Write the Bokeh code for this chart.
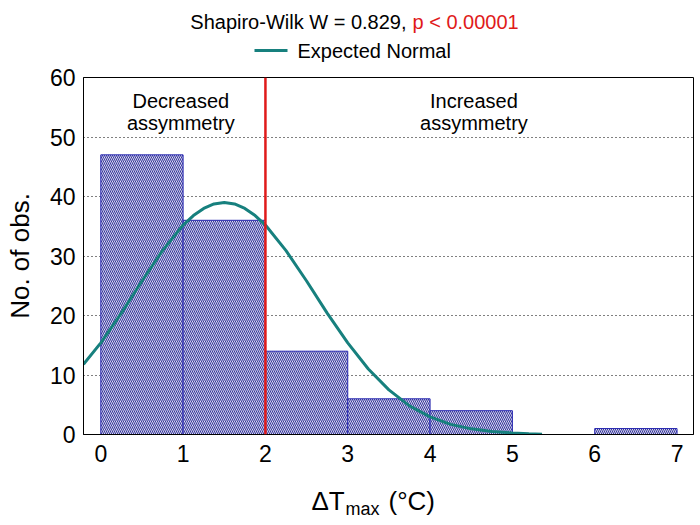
from bokeh.plotting import figure
from bokeh.layouts import column
from bokeh.models import Range1d, Span, Label, FixedTicker
from bokeh.core.properties import value
from bokeh.embed import file_html
from bokeh.resources import INLINE

# ---- data ----
bin_left = [0, 1, 2, 3, 4, 5, 6]
bin_right = [1, 2, 3, 4, 5, 6, 7]
counts = [47, 36, 14, 6, 4, 0, 1]

curve_x = [-0.21, 0.0, 0.25, 0.5, 0.75, 1.0, 1.125, 1.25, 1.375, 1.5, 1.625, 1.75, 1.875,
           2.0, 2.25, 2.5, 2.75, 3.0, 3.25, 3.5, 3.75, 4.0, 4.25, 4.5, 4.75, 5.0, 5.2, 5.36]
curve_y = [11.8, 15.4, 20.4, 25.8, 30.9, 35.2, 36.8, 38.0, 38.75, 39.0, 38.75, 38.0, 36.8,
           35.2, 30.9, 25.8, 20.4, 15.4, 11.0, 7.5, 4.8, 2.95, 1.7, 0.95, 0.5, 0.25, 0.12, 0.05]

x_ticks = [0, 1, 2, 3, 4, 5, 6, 7]
y_ticks = [0, 10, 20, 30, 40, 50, 60]
threshold = 2

title_main = "Shapiro-Wilk W = 0.829,"
title_p = "p < 0.00001"
legend_label = "Expected Normal"
region_left = ["Decreased", "assymmetry"]
region_right = ["Increased", "assymmetry"]

FONT = "Liberation Sans"
TEAL = "#17807e"
RED = "#e01a1a"
BLUE = "#2626b0"

W = 700
TOP_H = 62
BOT_H = 41
MAIN_H = 525 - TOP_H - BOT_H
FRAME_L = 83
FRAME_R = 693

def strip(h):
    # frames of the column's plots are aligned, so use the main frame's pixel span
    s = figure(width=W, height=h, output_backend="svg", toolbar_location=None, title=None,
               x_range=Range1d(FRAME_L, FRAME_R), y_range=Range1d(0, h),
               min_border=0, min_border_left=FRAME_L, min_border_right=W - FRAME_R,
               min_border_top=0, min_border_bottom=0)
    s.axis.visible = False
    s.grid.visible = False
    s.outline_line_color = None
    s.background_fill_color = "white"
    s.border_fill_color = "white"
    return s

# ---- top strip: title + legend ----
top = strip(TOP_H)
top.text(x=[406], y=[41], text=[title_main], text_align="right", text_baseline="middle",
         text_font=value(FONT), text_font_size=value("20px"), text_color="black")
top.text(x=[412], y=[41], text=[title_p], text_align="left", text_baseline="middle",
         text_font=value(FONT), text_font_size=value("20px"), text_color=RED)
top.line(x=[254, 287], y=[12, 12], line_color=TEAL, line_width=3)
top.text(x=[297], y=[12], text=[legend_label], text_align="left", text_baseline="middle",
         text_font=value(FONT), text_font_size=value("20px"), text_color="black")

# ---- main chart ----
p = figure(width=W, height=MAIN_H, output_backend="svg", toolbar_location=None, title=None,
           x_range=Range1d(-0.21, 7.2), y_range=Range1d(0, 60),
           min_border_left=FRAME_L, min_border_right=W - FRAME_R, min_border_top=15,
           min_border_bottom=50)

p.outline_line_color = "black"
p.outline_line_width = 1
p.background_fill_color = "white"
p.border_fill_color = "white"

p.xgrid.grid_line_color = None
p.ygrid.grid_line_color = "black"
p.ygrid.grid_line_dash = "1 3"
p.ygrid.grid_line_width = 1

p.xaxis.ticker = FixedTicker(ticks=x_ticks)
p.yaxis.ticker = FixedTicker(ticks=y_ticks)
for ax in (p.xaxis, p.yaxis):
    ax.axis_line_color = "black"
    ax.major_tick_out = 0
    ax.major_tick_in = 0
    ax.minor_tick_out = 0
    ax.minor_tick_in = 0
    ax.major_label_text_font = FONT
    ax.major_label_text_font_size = "23px"
    ax.major_label_text_color = "black"
p.xaxis.major_label_standoff = 10
p.yaxis.major_label_standoff = 8

p.yaxis.axis_label = "No. of obs."
p.yaxis.axis_label_text_font = FONT
p.yaxis.axis_label_text_font_size = "26px"
p.yaxis.axis_label_text_font_style = "normal"
p.yaxis.axis_label_text_color = "black"
p.yaxis.axis_label_standoff = 12

# bars (skip empty bins)
bl = [l for l, c in zip(bin_left, counts) if c > 0]
br = [r for r, c in zip(bin_right, counts) if c > 0]
bc = [c for c in counts if c > 0]
p.quad(left=bl, right=br, bottom=0, top=bc, fill_color="white",
       line_color=BLUE, line_width=1,
       hatch_pattern="\\", hatch_color="#33339c", hatch_scale=4, hatch_weight=1.1)

# expected normal curve
p.line(curve_x, curve_y, line_color=TEAL, line_width=3)

# threshold line
p.add_layout(Span(location=threshold, dimension="height", line_color=RED, line_width=2.5))

# region annotations
for (t1, t2), x in [(region_left, 0.972), (region_right, 4.533)]:
    for txt, y in [(t1, 55.97), (t2, 52.27)]:
        p.add_layout(Label(x=x, y=y, text=txt, text_align="center", text_baseline="middle",
                           text_font=FONT, text_font_size="20px", text_color="black"))

# ---- bottom strip: x axis label with subscript ----
bot = strip(BOT_H)
bot.text(x=[311], y=[25], text=["\u0394T"], text_align="left", text_baseline="middle",
         text_font=value(FONT), text_font_size=value("26px"), text_color="black")
bot.text(x=[345], y=[17], text=["max"], text_align="left", text_baseline="middle",
         text_font=value(FONT), text_font_size=value("18px"), text_color="black")
bot.text(x=[388], y=[25], text=["(\u00b0C)"], text_align="left", text_baseline="middle",
         text_font=value(FONT), text_font_size=value("26px"), text_color="black")

layout = column(top, p, bot, spacing=0)
open("out.html", "w").write(file_html(layout, INLINE))
